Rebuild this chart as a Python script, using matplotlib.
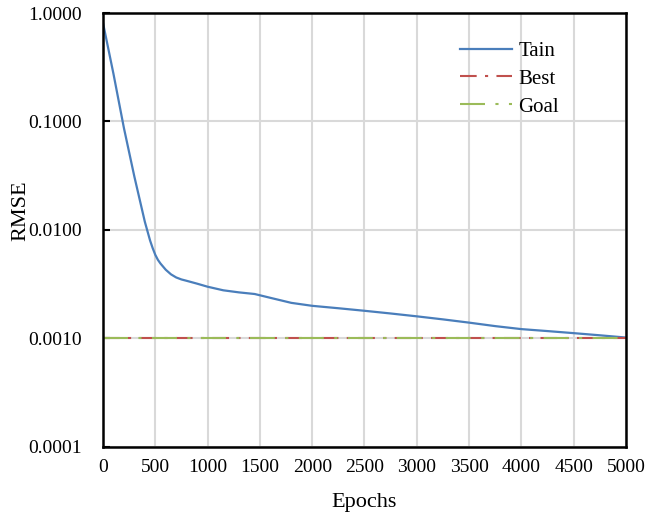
import matplotlib
matplotlib.use("Agg")
import matplotlib.pyplot as plt
from matplotlib.ticker import FixedLocator, FuncFormatter, NullLocator

plt.rcParams['font.family'] = ['Liberation Serif', 'DejaVu Serif']

epochs = [0, 100, 200, 300, 400, 450, 475, 500, 525, 550, 600, 650, 700, 750, 800, 900, 1000, 1150, 1300, 1450,
          1600, 1800, 2000, 2250, 2500, 2750, 3000, 3250, 3500, 3750, 4000, 4250, 4500, 4750, 5000]
train = [0.81, 0.275, 0.087, 0.031, 0.0119, 0.0080, 0.0068, 0.0059, 0.0053, 0.0049, 0.0043, 0.0039, 0.00365, 0.0035, 0.0034,
         0.0032, 0.0030, 0.00278, 0.00266, 0.00257, 0.00237, 0.00213, 0.0020, 0.0019, 0.0018, 0.0017,
         0.0016, 0.0015, 0.0014, 0.0013, 0.00122, 0.00117, 0.00112, 0.00107, 0.00102]
best_epochs = [0, 5000]
best = [0.001, 0.001]
goal = [0.001, 0.001]
x_ticks = [0, 500, 1000, 1500, 2000, 2500, 3000, 3500, 4000, 4500, 5000]
y_ticks = [0.0001, 0.001, 0.01, 0.1, 1.0]

fig = plt.figure(figsize=(6.45, 5.14), dpi=100)
ax = fig.add_axes([0.1597, 0.1304, 0.8108, 0.8443])

ax.plot(epochs, train, color='#4A7EBB', lw=1.6, label='Tain')
ax.plot(best_epochs, best, color='#C0504D', lw=1.5, dashes=(8, 4, 1.5, 4), label='Best')
ax.plot(best_epochs, goal, color='#9BBB59', lw=1.5, dashes=(12, 5, 1.5, 5), label='Goal')

ax.set_yscale('log')
ax.set_xlim(0, 5000)
ax.set_ylim(0.0001, 1.0)
ax.xaxis.set_major_locator(FixedLocator(x_ticks))
ax.yaxis.set_major_locator(FixedLocator(y_ticks))
ax.yaxis.set_minor_locator(NullLocator())
ax.yaxis.set_major_formatter(FuncFormatter(lambda v, p: f"{v:.4f}"))
ax.grid(True, color='#D9D9D9', lw=1.5)
ax.set_axisbelow(True)
for s in ax.spines.values():
    s.set_linewidth(1.8)
    s.set_color('black')
ax.tick_params(axis='y', direction='in', length=5, width=1.5, labelsize=14, pad=15)
ax.tick_params(axis='x', length=0, labelsize=14, pad=9)
ax.set_xlabel('Epochs', fontsize=16, labelpad=12)
ax.set_ylabel('RMSE', fontsize=16)
ax.yaxis.set_label_coords(-0.138, 0.544)

leg = ax.legend(loc='upper left', bbox_to_anchor=(0.683, 0.935), frameon=False, fontsize=15,
                handlelength=2.5, labelspacing=0.4, handletextpad=0.3, borderpad=0, borderaxespad=0)

fig.savefig('out.png', dpi=100)
